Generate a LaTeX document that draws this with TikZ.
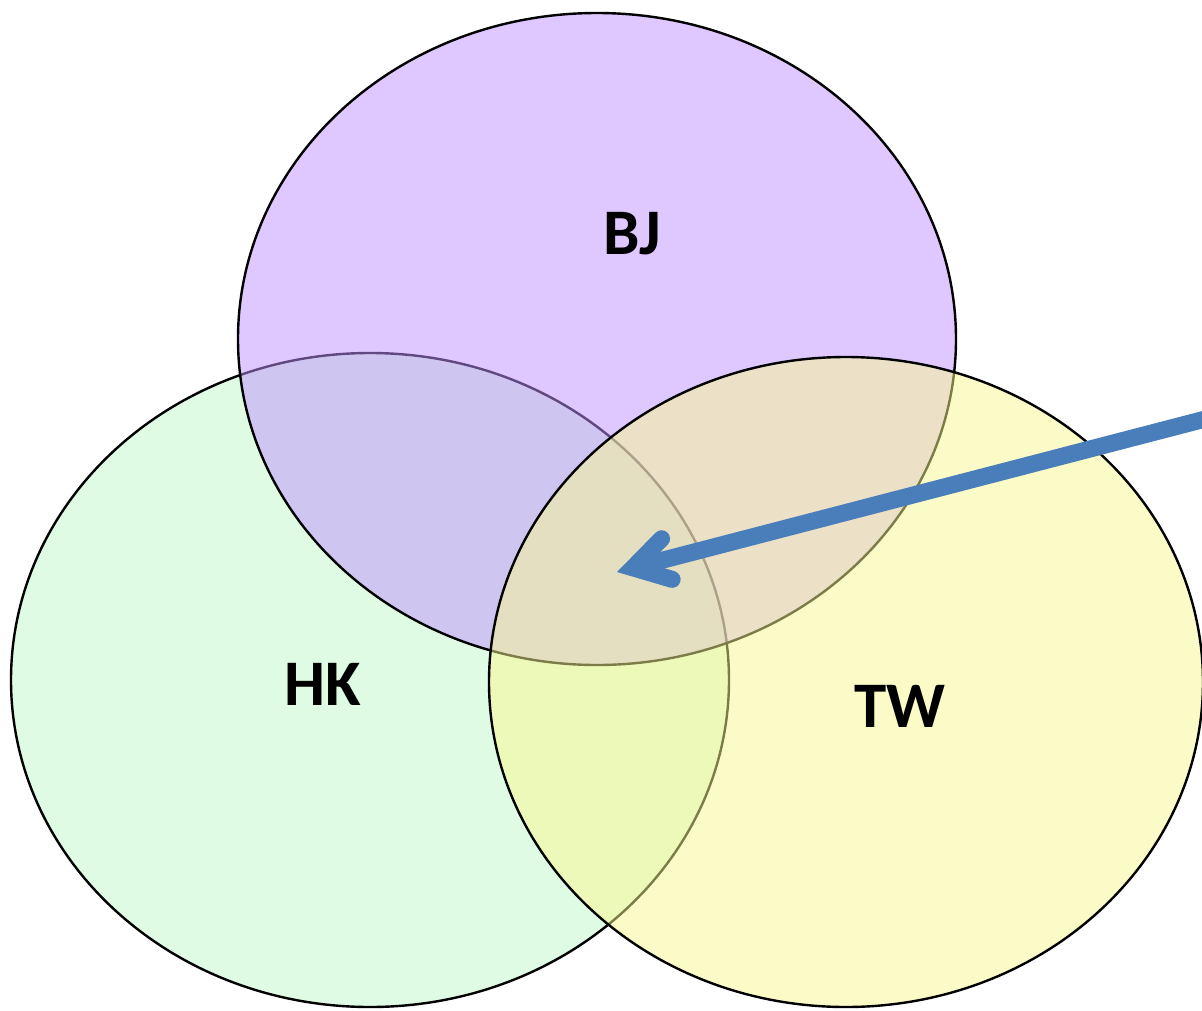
\documentclass[tikz,border=0pt]{standalone}
\usepackage{fontspec}
\setmainfont{Carlito}
\usetikzlibrary{arrows.meta}
\definecolor{bjc}{RGB}{193,145,255}
\definecolor{hkc}{RGB}{193,249,201}
\definecolor{twc}{RGB}{249,249,145}
\definecolor{arrc}{RGB}{74,126,187}
\begin{document}
\begin{tikzpicture}[x=1pt,y=-1pt,
  setshape/.style={draw=black,line width=2.4pt,fill opacity=0.5},
  lbl/.style={font=\fontsize{65}{70}\selectfont\bfseries,inner sep=0pt}]
\useasboundingbox (0,0) rectangle (1202,1010);
\fill[white] (0,0) rectangle (1202,1010);
\draw[setshape,fill=hkc] (370,680) ellipse [x radius=359,y radius=327];
\draw[setshape,fill=bjc] (597,339) ellipse [x radius=359,y radius=326];
\draw[setshape,fill=twc] (846,682) ellipse [x radius=357,y radius=325];
\node[lbl] (bj) at (632,234) {BJ};
\node[lbl] (hk) at (323,684) {HK};
\node[lbl] (tw) at (900,706) {TW};
\coordinate (src) at (1240,410);
\coordinate (tip) at (617,572);
\draw[arrc,line width=17pt,line cap=round,
  -{Straight Barb[length=35pt,width=42pt,line cap=round,line join=miter]}] (src) -- (tip);
\end{tikzpicture}
\end{document}
